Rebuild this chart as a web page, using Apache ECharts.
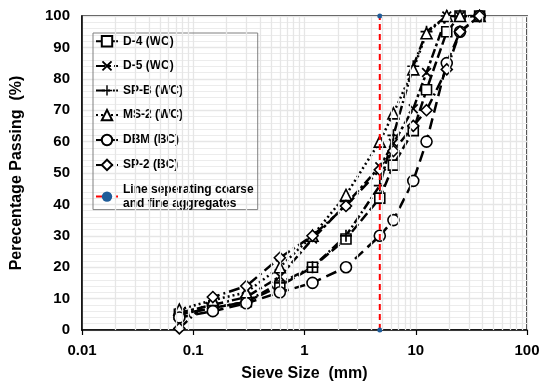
<!DOCTYPE html>
<html>
<head>
<meta charset="utf-8">
<script src="https://cdn.jsdelivr.net/npm/echarts@6/dist/echarts.min.js"></script>
<style>
html,body{margin:0;padding:0;background:#fff;}
#chart{width:550px;height:390px;}
</style>
</head>
<body>
<div id="chart"></div>
<script>
// ---- Data ----
const sieves = [0.075, 0.15, 0.3, 0.6, 1.18, 2.36, 4.75, 6.3, 9.5, 12.5, 19, 25, 37.5];
const d4  = [5, 7, 9, 14, 20, 29, 42, 52.5, 63.5, 76.5, 95, 100, 100];
const d5  = [5.5, 8, 10.5, 17, 29, 40, 52, 59.5, 70.5, 82, 100, 100, 100];
const spb = [5, 7, 9, 15, 20, 30, 46, 62, 84, 95, 100, 100, 100];
const ms2 = [6.5, 9.5, 12, 20, 30, 43, 60, 69, 83, 94.5, 100, 100, 100];
const dbm = [4, 6, 8.5, 12, 15, 20, 30, 35, 47.5, 60, 85, 95, 100];
const sp2 = [0.5, 10.5, 14, 23, 30, 39.5, 51, 57, 65, 70, 83, 95, 100];
const separatorSize = 4.75;
const separatorRange = [0, 100];
const seriesNames = ['D-4 (WC)', 'D-5 (WC)', 'SP-B (WC)', 'MS-2 (WC)', 'DBM (BC)', 'SP-2 (BC)', 'Line seperating coarse\nand fine aggregates'];
const xTickLabels = ['0.01', '0.1', '1', '10', '100'];

const FONT = '"Liberation Sans", Arial, sans-serif';
const pts = arr => sieves.map((s, i) => [s, arr[i]]);

const X_PATH = 'path://M0,2.5 L2.5,0 L10,7.5 L17.5,0 L20,2.5 L12.5,10 L20,17.5 L17.5,20 L10,12.5 L2.5,20 L0,17.5 L7.5,10 Z';
const PLUS_PATH = 'path://M8.6,0 H11.4 V8.6 H20 V11.4 H11.4 V20 H8.6 V11.4 H0 V8.6 H8.6 Z';

// light minor vertical grid lines at 2..9 of each decade
const minorX = [];
[0.01, 0.1, 1, 10].forEach(d => { for (let k = 2; k <= 9; k++) minorX.push({ xAxis: +(d * k).toPrecision(3) }); });

function mkLine(name, data, symbol, size, dash, hollow) {
  return {
    name: name, type: 'line', data: pts(data),
    symbol: symbol, symbolSize: size,
    lineStyle: { color: '#000', width: 2.5, type: dash },
    itemStyle: hollow ? { color: '#fff', borderColor: '#000', borderWidth: 1.6 } : { color: '#000', borderWidth: 0 },
    z: 3
  };
}

const chart = echarts.init(document.getElementById('chart'), null, { renderer: 'canvas' });
chart.setOption({
  animation: false,
  backgroundColor: '#fff',
  grid: { left: 82, right: 23, top: 16, bottom: 60, show: true, borderColor: '#000', borderWidth: 1.5, backgroundColor: 'transparent' },
  xAxis: {
    type: 'log', logBase: 10, min: 0.01, max: 100,
    name: 'Sieve Size  (mm)', nameLocation: 'middle', nameGap: 36,
    nameTextStyle: { fontFamily: FONT, fontWeight: 'bold', fontSize: 16, color: '#000' },
    axisLine: { lineStyle: { color: '#000', width: 1.5 } },
    axisTick: { show: true, length: 5, lineStyle: { color: '#000', width: 1.2 } },
    axisLabel: {
      fontFamily: FONT, fontWeight: 'bold', fontSize: 15, color: '#000', margin: 13,
      formatter: v => { const i = Math.round(Math.log10(v)) + 2; return xTickLabels[i] !== undefined ? xTickLabels[i] : ''; }
    },
    splitLine: { show: true, lineStyle: { color: '#e6e6e6', width: 1.3 } }
  },
  yAxis: {
    type: 'value', min: 0, max: 100, interval: 10,
    name: 'Perecentage Passing  (%)', nameLocation: 'middle', nameGap: 57,
    nameTextStyle: { fontFamily: FONT, fontWeight: 'bold', fontSize: 16, color: '#000' },
    axisLine: { show: true, lineStyle: { color: '#000', width: 1.5 } },
    axisTick: { show: false },
    axisLabel: { fontFamily: FONT, fontWeight: 'bold', fontSize: 15, color: '#000', margin: 12 },
    splitLine: { show: true, lineStyle: { color: '#e6e6e6', width: 1.3 } },
    minorTick: { show: false, splitNumber: 5 },
    minorSplitLine: { show: true, lineStyle: { color: '#ececec', width: 1.2 } }
  },
  legend: {
    orient: 'vertical', left: 93, top: 33,
    backgroundColor: 'transparent', borderColor: '#808080', borderWidth: 1,
    padding: [2, 4, 0, 2], itemGap: 12.5, itemWidth: 22, itemHeight: 13,
    textStyle: { fontFamily: FONT, fontWeight: 'bold', fontSize: 12, color: '#000' },
    data: seriesNames.slice(0, 6).concat([{ name: seriesNames[6], textStyle: { lineHeight: 14, padding: [0, 0, -14, 0] } }])
  },
  series: [
    {
      name: '_grid', type: 'line', data: [], silent: true, z: 0,
      markLine: { silent: true, symbol: 'none', label: { show: false }, animation: false,
        lineStyle: { color: '#e6e6e6', width: 1.3, type: 'solid' }, data: minorX }
    },
    mkLine(seriesNames[0], d4, 'rect', 10, [10, 4], true),
    mkLine(seriesNames[1], d5, X_PATH, 10, [9, 3, 3, 3], false),
    mkLine(seriesNames[2], spb, PLUS_PATH, 12, [9, 3, 2, 3], false),
    mkLine(seriesNames[3], ms2, 'triangle', 11, [2, 3], true),
    mkLine(seriesNames[4], dbm, 'circle', 11, [11, 6], true),
    mkLine(seriesNames[5], sp2, 'diamond', 11, [11, 4, 2, 4], true),
    {
      name: seriesNames[6], type: 'line',
      data: [[separatorSize, separatorRange[0]], [separatorSize, separatorRange[1]]],
      symbol: 'circle', symbolSize: 5, clip: false,
      lineStyle: { color: '#ff0000', width: 2, type: [6, 4] },
      itemStyle: { color: '#1f5c99' }, z: 4
    }
  ]
});
</script>
</body>
</html>
